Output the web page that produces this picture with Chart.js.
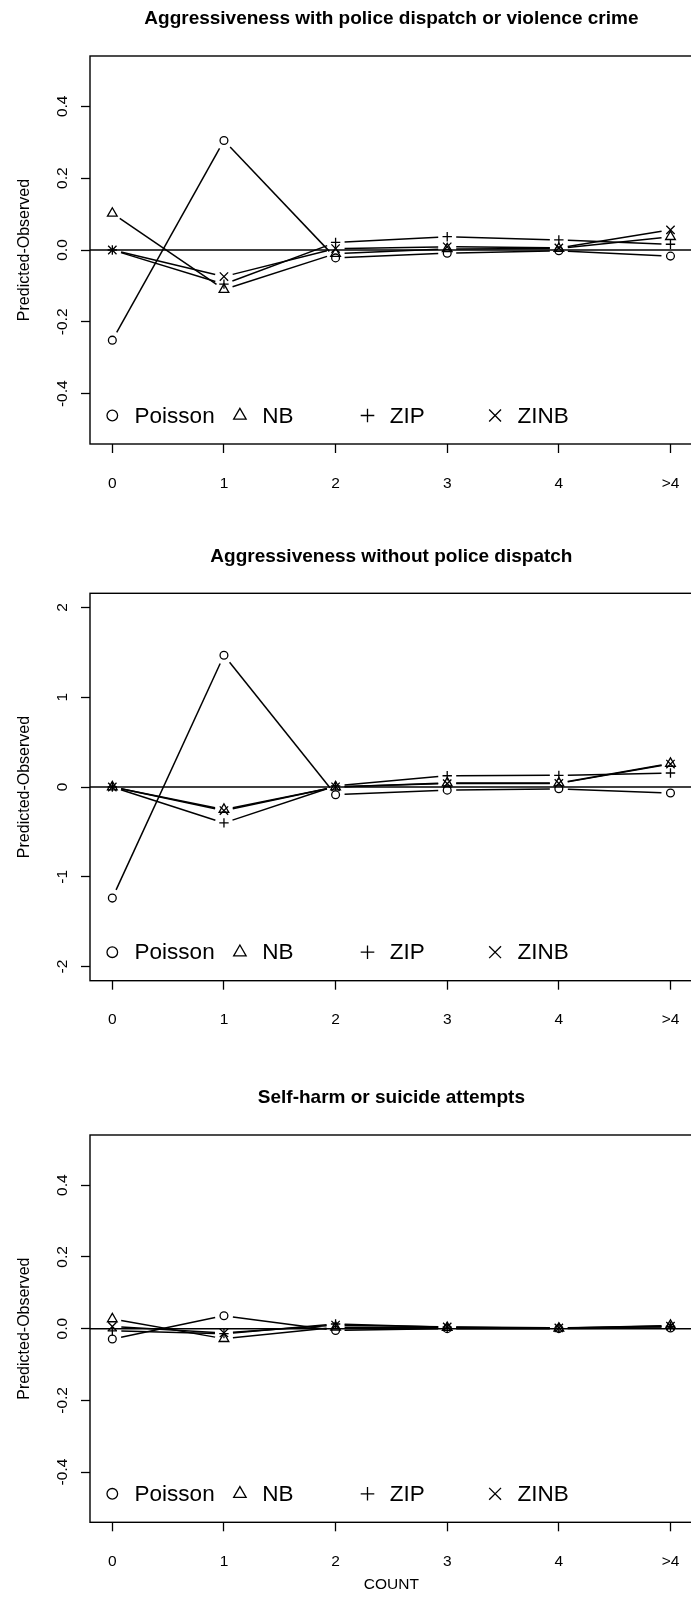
<!DOCTYPE html>
<html>
<head>
<meta charset="utf-8">
<script src="https://cdn.jsdelivr.net/npm/chart.js@4.4.1/dist/chart.umd.min.js"></script>
<style>
  html, body { margin: 0; padding: 0; background: #fff; overflow: hidden; }
  body { width: 691px; height: 1601px; position: relative; }
  canvas { position: absolute; left: 0; }
</style>
</head>
<body>
<canvas id="c1" width="700" height="520" style="top:0px"></canvas>
<canvas id="c2" width="700" height="540" style="top:520px"></canvas>
<canvas id="c3" width="700" height="541" style="top:1060px"></canvas>
<script>
// categories and series
const counts = ["0", "1", "2", "3", "4", ">4"];
const models = ["Poisson", "NB", "ZIP", "ZINB"];

// Aggressiveness with police dispatch or violence crime
const policePoisson = [-0.251, 0.305, -0.022, -0.009, -0.002, -0.017];
const policeNB      = [0.102, -0.110, -0.010, 0.003, 0.004, 0.037];
const policeZIP     = [0.000, -0.095, 0.021, 0.037, 0.028, 0.016];
const policeZINB    = [0.000, -0.074, 0.004, 0.009, 0.006, 0.056];

// Aggressiveness without police dispatch
const noPolicePoisson = [-1.237, 1.467, -0.086, -0.035, -0.020, -0.067];
const noPoliceNB      = [0.000, -0.250, 0.000, 0.044, 0.044, 0.262];
const noPoliceZIP     = [0.000, -0.400, 0.012, 0.125, 0.130, 0.156];
const noPoliceZINB    = [0.000, -0.262, 0.002, 0.038, 0.040, 0.256];

// Self-harm or suicide attempts
const harmPoisson = [-0.029, 0.036, -0.005, 0.000, 0.000, 0.002];
const harmNB      = [0.027, -0.028, 0.004, 0.003, 0.001, 0.009];
const harmZIP     = [-0.006, -0.014, 0.013, 0.004, 0.001, 0.006];
const harmZINB    = [0.006, -0.012, 0.010, 0.005, 0.002, 0.007];

// y tick values
const smallTicks = [-0.4, -0.2, 0, 0.2, 0.4];
const bigTicks = [-2, -1, 0, 1, 2];

const FONT = "'Liberation Sans', Arial, Helvetica, sans-serif";
Chart.defaults.font.family = FONT;
Chart.defaults.color = "#000";

const markers = ["circle", "triangle", "cross", "crossRot"];
const pointSize = [3.9, 5.6, 4.7, 5.9];
const legendSize = [5.3, 7.2, 6.8, 8.4];
const GAP = 9;

// R style: lines with gaps (type="b"), zero line, box, legend
const rStyle = {
  id: "rStyle",
  beforeDatasetsDraw(chart) {
    const ctx = chart.ctx, a = chart.chartArea;
    ctx.save();
    ctx.beginPath();
    ctx.rect(a.left, a.top, a.right - a.left, a.bottom - a.top);
    ctx.clip();
    ctx.strokeStyle = "#000";
    ctx.lineWidth = 1.5;
    chart.data.datasets.forEach((ds, k) => {
      const pts = chart.getDatasetMeta(k).data;
      for (let i = 0; i < pts.length - 1; i++) {
        const p = pts[i], q = pts[i + 1];
        const dx = q.x - p.x, dy = q.y - p.y;
        const len = Math.hypot(dx, dy);
        if (len <= 2 * GAP) continue;
        const ux = dx / len, uy = dy / len;
        ctx.beginPath();
        ctx.moveTo(p.x + ux * GAP, p.y + uy * GAP);
        ctx.lineTo(q.x - ux * GAP, q.y - uy * GAP);
        ctx.stroke();
      }
    });
    ctx.restore();
  },
  afterDatasetsDraw(chart) {
    const ctx = chart.ctx, a = chart.chartArea;
    const y0 = chart.scales.y.getPixelForValue(0);
    ctx.save();
    ctx.strokeStyle = "#000";
    ctx.lineWidth = 1.5;
    ctx.beginPath();
    ctx.moveTo(a.left, y0);
    ctx.lineTo(a.right, y0);
    ctx.stroke();
    ctx.restore();
  },
  afterDraw(chart) {
    const ctx = chart.ctx, a = chart.chartArea;
    ctx.save();
    ctx.strokeStyle = "#000";
    ctx.lineWidth = 1.4;
    ctx.strokeRect(a.left, a.top, a.right - a.left, a.bottom - a.top);

    // legend
    const lx = a.left + 22.3, ly = a.bottom - 28.5;
    ctx.font = "22.5px " + FONT;
    ctx.textBaseline = "middle";
    ctx.textAlign = "left";
    models.forEach((m, i) => {
      const x = lx + i * 127.6;
      ctx.fillStyle = "rgba(0,0,0,0)";
      ctx.lineWidth = 1.3;
      Chart.helpers.drawPoint(ctx, { pointStyle: markers[i], radius: legendSize[i], borderWidth: 1.3, rotation: 0 }, x, ly);
      ctx.fillStyle = "#000";
      ctx.fillText(m, x + 22.3, ly + 1);
    });
    ctx.restore();
  }
};

function widestLabel(labels, size) {
  const c = document.createElement("canvas").getContext("2d");
  c.font = size + "px " + FONT;
  let w = 0;
  labels.forEach((l) => { w = Math.max(w, c.measureText(l).width); });
  return w;
}

function makePanel(id, title, series, yLim, yTicks, dec, titleTop, xHeight, showCount) {
  const tickLabels = yTicks.map((v) => v.toFixed(dec));
  const yPad = 18 - widestLabel(tickLabels, 15.5) / 2;

  return new Chart(document.getElementById(id), {
    type: "scatter",
    data: {
      datasets: series.map((s, k) => ({
        label: models[k],
        data: s.map((v, i) => ({ x: i + 1, y: v })),
        pointStyle: markers[k],
        pointRadius: pointSize[k],
        pointHoverRadius: pointSize[k],
        pointBorderWidth: 1.3,
        borderColor: "#000",
        backgroundColor: "rgba(0,0,0,0)",
        showLine: false
      }))
    },
    options: {
      responsive: false,
      animation: false,
      devicePixelRatio: 1,
      layout: { padding: 0 },
      plugins: {
        legend: { display: false },
        tooltip: { enabled: false },
        title: {
          display: true,
          text: title,
          fullSize: false,
          color: "#000",
          font: { size: 19, weight: "bold" },
          padding: { top: titleTop, bottom: 25.6 }
        }
      },
      scales: {
        x: {
          type: "linear",
          min: 0.8,
          max: 6.2,
          afterBuildTicks: (s) => { s.ticks = counts.map((c, i) => ({ value: i + 1 })); },
          afterFit: (s) => { s.height = xHeight; s.paddingLeft = 0; s.paddingRight = 0; },
          ticks: {
            callback: (v) => counts[Math.round(v) - 1],
            font: { size: 15.5 },
            color: "#000",
            padding: 21,
            maxRotation: 0,
            autoSkip: false
          },
          grid: { drawOnChartArea: false, tickLength: 9, tickWidth: 1.3, tickColor: "#000" },
          border: { display: false },
          title: {
            display: showCount,
            text: "COUNT",
            color: "#000",
            font: { size: 15.5 },
            padding: { top: 0, bottom: 6.5 }
          }
        },
        y: {
          min: yLim[0],
          max: yLim[1],
          afterBuildTicks: (s) => { s.ticks = yTicks.map((v) => ({ value: v })); },
          afterFit: (s) => { s.width = 90; s.paddingTop = 0; s.paddingBottom = 0; },
          ticks: {
            callback: (v) => v.toFixed(dec),
            font: { size: 15.5 },
            color: "#000",
            minRotation: 90,
            maxRotation: 90,
            crossAlign: "center",
            padding: yPad,
            autoSkip: false
          },
          grid: { drawOnChartArea: false, tickLength: 9, tickWidth: 1.3, tickColor: "#000" },
          border: { display: false },
          title: {
            display: true,
            text: "Predicted-Observed",
            color: "#000",
            font: { size: 16 },
            padding: { top: 15.4, bottom: 0 }
          }
        }
      }
    },
    plugins: [rStyle]
  });
}

makePanel("c1", "Aggressiveness with police dispatch or violence crime",
  [policePoisson, policeNB, policeZIP, policeZINB], [-0.54, 0.54], smallTicks, 1, 7.6, 76, false);
makePanel("c2", "Aggressiveness without police dispatch",
  [noPolicePoisson, noPoliceNB, noPoliceZIP, noPoliceZINB], [-2.157, 2.157], bigTicks, 0, 24.9, 79.3, false);
makePanel("c3", "Self-harm or suicide attempts",
  [harmPoisson, harmNB, harmZIP, harmZINB], [-0.54, 0.54], smallTicks, 1, 26.6, 78.7, true);
</script>
</body>
</html>
